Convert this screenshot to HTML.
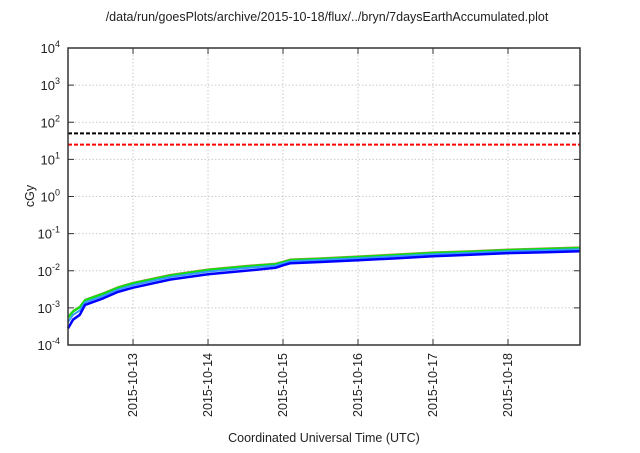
<!DOCTYPE html>
<html><head><meta charset="utf-8"><style>
body{margin:0;background:#fff;}
svg text{font-family:"Liberation Sans",sans-serif;fill:#222;}
</style></head><body>
<svg id="c" width="640" height="448" xmlns="http://www.w3.org/2000/svg"></svg>
<script>
const xTickLabels=["2015-10-13","2015-10-14","2015-10-15","2015-10-16","2015-10-17","2015-10-18"];
const xTickDays=[1,2,3,4,5,6];
const yTickExp=[4,3,2,1,0,-1,-2,-3,-4];
const times=[0.133,0.2,0.29,0.36,0.6,0.8,1,1.5,2,2.5,2.9,3.0,3.1,3.5,4,4.5,5,5.5,6,6.5,6.96];
const greenVals=[5.5e-4,8e-4,1.05e-3,1.6e-3,2.4e-3,3.5e-3,4.6e-3,7.5e-3,1.05e-2,1.3e-2,1.5e-2,1.7e-2,1.95e-2,2.1e-2,2.35e-2,2.65e-2,3e-2,3.25e-2,3.6e-2,3.85e-2,4.1e-2];
const cyanVals=[4.2e-4,6.5e-4,8.5e-4,1.4e-3,2.1e-3,3.1e-3,4.1e-3,6.8e-3,9.5e-3,1.18e-2,1.38e-2,1.58e-2,1.8e-2,1.95e-2,2.18e-2,2.45e-2,2.78e-2,3.02e-2,3.35e-2,3.58e-2,3.8e-2];
const blueVals=[2.8e-4,4.8e-4,6.5e-4,1.2e-3,1.8e-3,2.7e-3,3.5e-3,5.8e-3,8e-3,1e-2,1.2e-2,1.4e-2,1.6e-2,1.72e-2,1.92e-2,2.15e-2,2.45e-2,2.7e-2,2.98e-2,3.15e-2,3.35e-2];
const thresholds=[50,25];
const L=68,R=580,T=48,B=345,d0=0.133,d1=6.96;
const X=d=>L+(d-d0)/(d1-d0)*(R-L);
const Y=v=>T+(4-Math.log10(v))/8*(B-T);
const svg=document.getElementById('c');const NS='http://www.w3.org/2000/svg';
function mk(t,a,p){const e=document.createElementNS(NS,t);for(const k in a)e.setAttribute(k,a[k]);(p||svg).appendChild(e);return e;}
let e;
e=mk('text',{x:327,y:21,'text-anchor':'middle','font-size':'12.5'});e.textContent='/data/run/goesPlots/archive/2015-10-18/flux/../bryn/7daysEarthAccumulated.plot';


yTickExp.forEach(p=>{const y=Y(Math.pow(10,p));
 if(p<4&&p>-4){e=mk('line',{x1:L,x2:R,y1:y,y2:y,stroke:'#ccc','stroke-dasharray':'1.5,2','stroke-width':1});
 
 }
 mk('line',{x1:L,x2:L+6,y1:y,y2:y,stroke:'#333'});mk('line',{x1:R,x2:R-6,y1:y,y2:y,stroke:'#333'});
 e=mk('text',{x:L-8,y:y+5,'text-anchor':'end','font-size':'13'});
 
 
 e.textContent='10';const s=mk('tspan',{dy:-6,'font-size':'9'},e);s.textContent=p;});
xTickDays.forEach((d,i)=>{const x=X(d);
 e=mk('line',{x1:x,x2:x,y1:T,y2:B,stroke:'#ccc','stroke-dasharray':'1.5,2'});
 
 
 mk('line',{x1:x,x2:x,y1:B,y2:B-6,stroke:'#333'});mk('line',{x1:x,x2:x,y1:T,y2:T+6,stroke:'#333'});
 e=mk('text',{x:0,y:0,'text-anchor':'end','font-size':'12.5',transform:`translate(${x+4},${B+8}) rotate(-90)`});
 
 
 e.textContent=xTickLabels[i];});
const tc=['#000','#f00'];
thresholds.forEach((v,i)=>{e=mk('line',{x1:L,x2:R,y1:Y(v),y2:Y(v),stroke:tc[i],'stroke-width':2,'stroke-dasharray':'4,2'});
 
 });
function series(vals,col,w,name,off){const pts=times.map((t,i)=>X(t).toFixed(1)+','+(Y(vals[i])+(off||0)).toFixed(1)).join(' ');
 e=mk('polyline',{points:pts,fill:'none',stroke:col,'stroke-width':w,'stroke-linejoin':'round'});
 
 }
series(greenVals,'#d08060',0.8,'series-orange',-1.2);
series(greenVals,'#11dd11',2.4,'series-green');
series(cyanVals,'#3399ff',2,'series-lightblue');
series(blueVals,'#0000ff',2.5,'series-blue');
e=mk('rect',{x:L,y:T,width:R-L,height:B-T,fill:'none',stroke:'#333','stroke-width':1.5});


e=mk('text',{x:0,y:0,'text-anchor':'middle','font-size':'12.5',transform:'translate(34,196) rotate(-90)'});e.textContent='cGy';


e=mk('text',{x:324,y:442,'text-anchor':'middle','font-size':'12.5'});e.textContent='Coordinated Universal Time (UTC)';


</script>
</body></html>
